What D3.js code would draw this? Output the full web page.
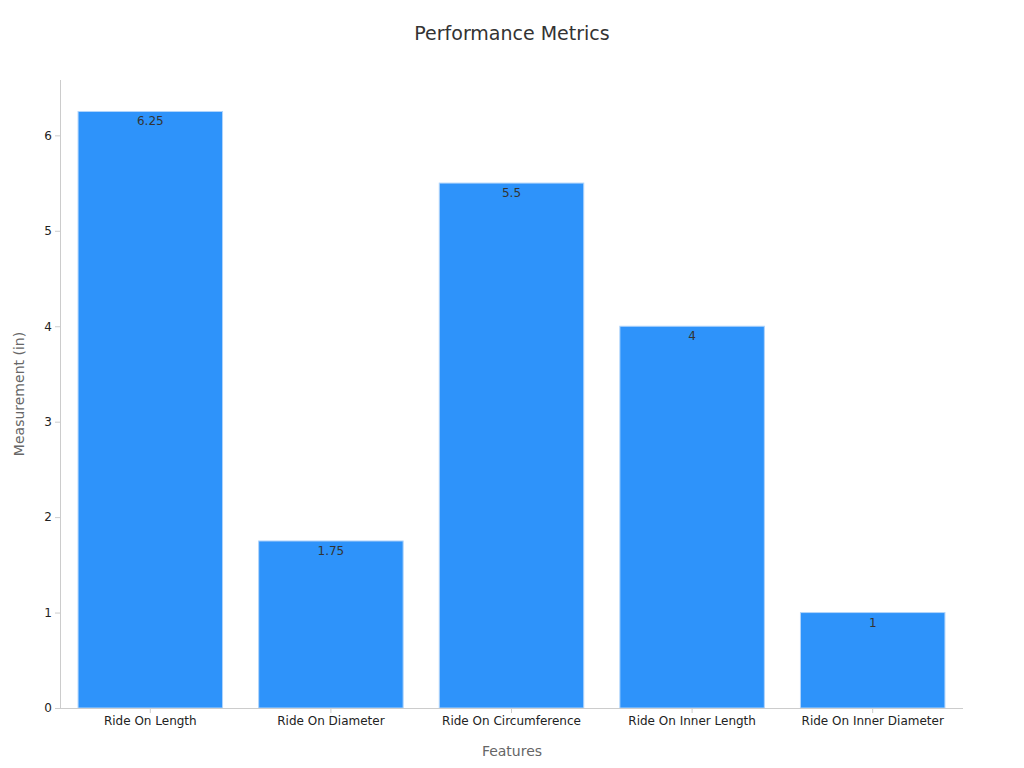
<!DOCTYPE html>
<html><head><meta charset="utf-8">
<script src="https://cdn.jsdelivr.net/npm/d3@7"></script>
<style>body{margin:0;background:#fff;font-family:"DejaVu Sans",sans-serif}</style>
</head><body><svg id="c" width="1024" height="768"></svg>
<script>
const categories=["Ride On Length","Ride On Diameter","Ride On Circumference","Ride On Inner Length","Ride On Inner Diameter"];
const values=[6.25,1.75,5.5,4,1];
const yTicks=[0,1,2,3,4,5,6];
const svg=d3.select("#c");
const m={l:60,r:963,t:80,b:708};
const x=d3.scaleBand().domain(categories).range([m.l,m.r]).paddingInner(0.2).paddingOuter(0.1);
const y=d3.scaleLinear().domain([0,6.58]).range([m.b,m.t]);
svg.append("text").attr("x",512).attr("y",40).attr("text-anchor","middle").attr("font-size",19).attr("fill","#333").text("Performance Metrics");
svg.selectAll("rect.b").data(values).join("rect").attr("x",(d,i)=>x(categories[i])).attr("y",d=>y(d)).attr("width",x.bandwidth()).attr("height",d=>y(0)-y(d)).attr("fill","#2e93fa").attr("stroke","#b0d4fb").attr("stroke-width",1);
svg.selectAll("text.v").data(values).join("text").attr("x",(d,i)=>x(categories[i])+x.bandwidth()/2).attr("y",d=>y(d)+14).attr("text-anchor","middle").attr("font-size",12).attr("fill","#333").text(d=>d);
const ya=svg.append("g").attr("transform",`translate(${m.l},0)`).call(d3.axisLeft(y).tickValues(yTicks).tickSize(5).tickFormat(d3.format("d")));
const xa=svg.append("g").attr("transform",`translate(0,${m.b})`).call(d3.axisBottom(x).tickSize(5));
[ya,xa].forEach(a=>{a.selectAll("path,line").attr("stroke","#ccc");a.selectAll("text").attr("fill","#222").attr("font-size",12).attr("font-family","DejaVu Sans");});
xa.select("path").attr("d",`M${m.l},0.5H${m.r}`);
ya.select("path").attr("d",`M0.5,${m.b}V${m.t}`);
svg.append("text").attr("x",512).attr("y",756).attr("text-anchor","middle").attr("font-size",14).attr("fill","#666").text("Features");
svg.append("text").attr("transform","translate(24,394) rotate(-90)").attr("text-anchor","middle").attr("font-size",14).attr("fill","#666").text("Measurement (in)");
</script></body></html>
